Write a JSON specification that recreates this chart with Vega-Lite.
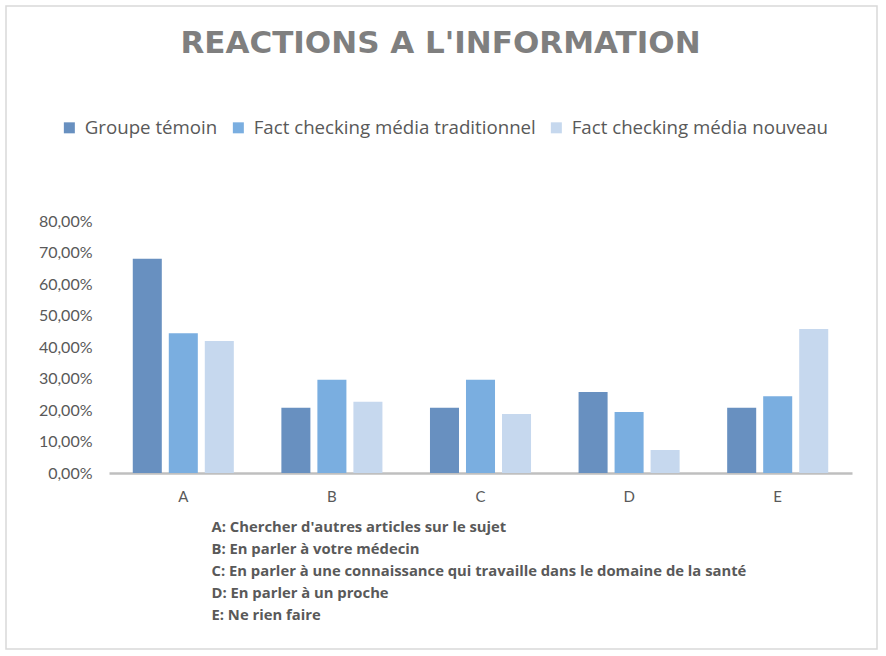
{
  "$schema": "https://vega.github.io/schema/vega-lite/v6.json",
  "width": 871,
  "height": 643,
  "autosize": {"type": "none"},
  "padding": {"left": 6, "top": 6, "right": 9, "bottom": 7},
  "background": "#ffffff",
  "config": {
    "locale": {"number": {"decimal": ",", "thousands": " ", "grouping": [3], "currency": ["", " €"]}},
    "view": {"stroke": "#d9d9d9", "strokeWidth": 1.5},
    "font": "Lato"
  },
  "title": {
    "text": "REACTIONS A L'INFORMATION",
    "font": "DejaVu Sans",
    "fontSize": 31,
    "fontWeight": "bold",
    "color": "#7f7f7f",
    "anchor": "middle",
    "frame": "group",
    "baseline": "alphabetic",
    "offset": 0,
    "dy": 78,
    "dx": -1
  },
  "data": {
    "values": [
      {"cat": "A", "serie": "Groupe témoin", "value": 0.68},
      {"cat": "A", "serie": "Fact checking média traditionnel", "value": 0.444},
      {"cat": "A", "serie": "Fact checking média nouveau", "value": 0.419},
      {"cat": "B", "serie": "Groupe témoin", "value": 0.207},
      {"cat": "B", "serie": "Fact checking média traditionnel", "value": 0.296},
      {"cat": "B", "serie": "Fact checking média nouveau", "value": 0.226},
      {"cat": "C", "serie": "Groupe témoin", "value": 0.207},
      {"cat": "C", "serie": "Fact checking média traditionnel", "value": 0.296},
      {"cat": "C", "serie": "Fact checking média nouveau", "value": 0.187},
      {"cat": "D", "serie": "Groupe témoin", "value": 0.257},
      {"cat": "D", "serie": "Fact checking média traditionnel", "value": 0.194},
      {"cat": "D", "serie": "Fact checking média nouveau", "value": 0.073},
      {"cat": "E", "serie": "Groupe témoin", "value": 0.207},
      {"cat": "E", "serie": "Fact checking média traditionnel", "value": 0.244},
      {"cat": "E", "serie": "Fact checking média nouveau", "value": 0.457}
    ]
  },
  "mark": {"type": "bar"},
  "encoding": {
    "x": {
      "field": "cat",
      "type": "nominal",
      "scale": {"range": [103, 846], "paddingInner": 0.32, "paddingOuter": 0.16},
      "axis": {
        "orient": "bottom",
        "offset": -176,
        "labelAngle": 0,
        "labelFontSize": 15,
        "labelColor": "#595959",
        "labelPadding": 16,
        "ticks": false,
        "domainColor": "#bfbfbf",
        "domainWidth": 2.5,
        "grid": false,
        "title": [
          "A: Chercher d'autres articles sur le sujet",
          "B: En parler à votre médecin",
          "C: En parler à une connaissance qui travaille dans le domaine de la santé",
          "D: En parler à un proche",
          "E: Ne rien faire"
        ],
        "titleFont": "Open Sans",
        "titleFontSize": 14.8,
        "titleFontWeight": "bold",
        "titleColor": "#595959",
        "titleLineHeight": 22,
        "titleAlign": "left",
        "titleAnchor": "start",
        "titleBaseline": "alphabetic",
        "titleX": 205,
        "titleY": 58
      }
    },
    "xOffset": {
      "field": "serie",
      "type": "nominal",
      "sort": ["Groupe témoin", "Fact checking média traditionnel", "Fact checking média nouveau"],
      "scale": {"paddingInner": 0.194, "paddingOuter": 0}
    },
    "y": {
      "field": "value",
      "type": "quantitative",
      "scale": {"domain": [0, 0.8], "range": [467, 215], "nice": false},
      "axis": {
        "orient": "left",
        "offset": -103,
        "values": [0, 0.1, 0.2, 0.3, 0.4, 0.5, 0.6, 0.7, 0.8],
        "format": ".2%",
        "labelFontSize": 16,
        "labelColor": "#595959",
        "labelPadding": 17,
        "ticks": false,
        "domain": false,
        "grid": false,
        "title": null
      }
    },
    "color": {
      "field": "serie",
      "type": "nominal",
      "sort": ["Groupe témoin", "Fact checking média traditionnel", "Fact checking média nouveau"],
      "scale": {
        "domain": ["Groupe témoin", "Fact checking média traditionnel", "Fact checking média nouveau"],
        "range": ["#6890c0", "#7aaee0", "#c6d8ee"]
      },
      "legend": {
        "title": null,
        "orient": "none",
        "direction": "horizontal",
        "legendX": 54,
        "legendY": 112,
        "symbolType": "square",
        "symbolSize": 121,
        "symbolStrokeWidth": 0,
        "labelFont": "Open Sans",
        "labelFontSize": 18.7,
        "labelColor": "#595959",
        "labelOffset": 6,
        "labelLimit": 0,
        "columnPadding": 11,
        "padding": 0
      }
    }
  }
}
